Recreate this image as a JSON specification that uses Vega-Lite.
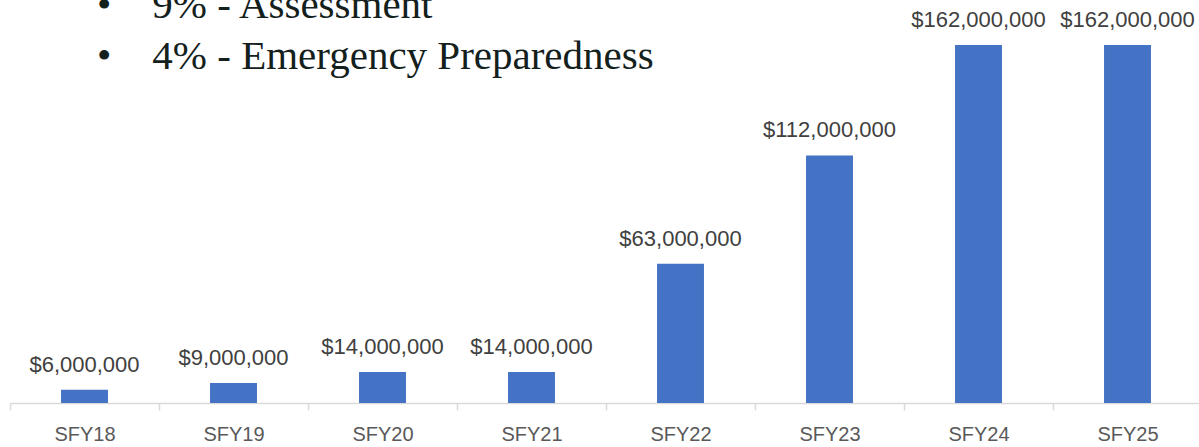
{
  "$schema": "https://vega.github.io/schema/vega-lite/v6.json",
  "autosize": {"type": "none"},
  "padding": {"left": 10, "top": 45, "right": 0, "bottom": 44},
  "width": 1192,
  "height": 358,
  "background": "white",
  "title": {
    "text": ["•\u00a0\u00a0\u00a0\u00a09% - Assessment", "•\u00a0\u00a0\u00a0\u00a04% - Emergency Preparedness"],
    "anchor": "start",
    "frame": "group",
    "font": "Liberation Serif",
    "fontSize": 41,
    "fontWeight": "normal",
    "color": "#13201c",
    "lineHeight": 51,
    "dx": 87,
    "offset": -69
  },
  "data": {
    "values": [
      {"year": "SFY18", "amount": 6000000},
      {"year": "SFY19", "amount": 9000000},
      {"year": "SFY20", "amount": 14000000},
      {"year": "SFY21", "amount": 14000000},
      {"year": "SFY22", "amount": 63000000},
      {"year": "SFY23", "amount": 112000000},
      {"year": "SFY24", "amount": 162000000},
      {"year": "SFY25", "amount": 162000000}
    ]
  },
  "encoding": {
    "x": {
      "field": "year",
      "type": "nominal",
      "sort": null,
      "scale": {"paddingInner": 0, "paddingOuter": 0},
      "axis": {
        "title": null,
        "labelAngle": 0,
        "labelFont": "Liberation Sans",
        "labelFontSize": 20,
        "labelColor": "#595959",
        "labelPadding": 14,
        "domainColor": "#d9d9d9",
        "domainWidth": 1.5,
        "tickColor": "#d9d9d9",
        "tickWidth": 1.5,
        "tickSize": 7,
        "tickBand": "extent",
        "grid": false
      }
    },
    "y": {
      "field": "amount",
      "type": "quantitative",
      "scale": {"domain": [0, 162000000], "nice": false},
      "axis": null
    }
  },
  "layer": [
    {
      "mark": {"type": "bar", "color": "#4472c4", "width": {"band": 0.315}}
    },
    {
      "mark": {
        "type": "text",
        "baseline": "alphabetic",
        "dy": -18,
        "font": "Liberation Sans",
        "fontSize": 22,
        "color": "#404040"
      },
      "encoding": {
        "text": {"field": "amount", "type": "quantitative", "format": "$,.0f"}
      }
    }
  ],
  "config": {"view": {"stroke": null}}
}
